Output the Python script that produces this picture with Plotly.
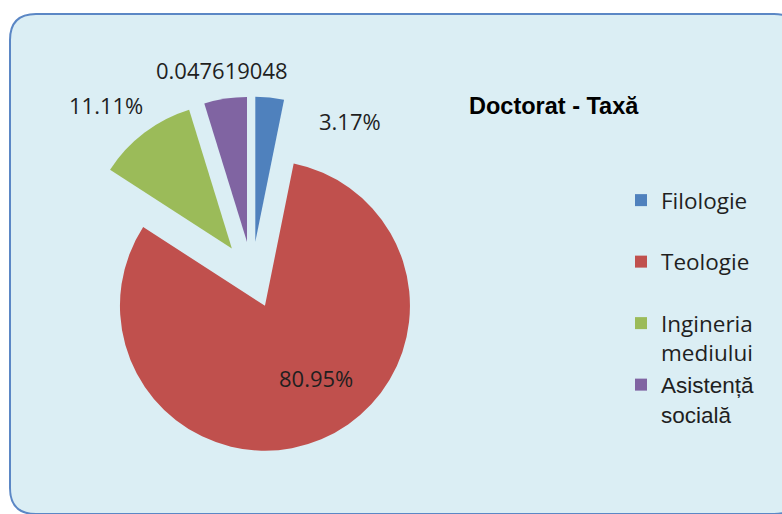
import plotly.graph_objects as go

# ---- data ----
labels = ["Filologie", "Teologie", "Ingineria mediului", "Asistență socială"]
legend_labels = ["Filologie<br> ", "Teologie<br> ", "Ingineria<br>mediului",
                 "<span style='font-family:Liberation Sans'>Asistență<br>socială</span>"]
values = [2, 51, 7, 3]
data_labels = ["3.17%", "80.95%", "11.11%", "0.047619048"]
colors = ["#4F81BD", "#C0504D", "#9BBB59", "#8064A2"]
title_text = "Doctorat - Taxă"

W, H = 782, 514

def px(x, y):
    return x / W, 1 - y / H

# rounded chart-area background (decoration)
L, T, R, B, rad = 10, 14, 800, 514, 26
def P(x, y):
    a, b = px(x, y)
    return f"{a:.5f},{b:.5f}"
path = (f"M{P(L+rad, T)} L{P(R-rad, T)} Q{P(R, T)} {P(R, T+rad)} "
        f"L{P(R, B-rad)} Q{P(R, B)} {P(R-rad, B)} L{P(L+rad, B)} "
        f"Q{P(L, B)} {P(L, B-rad)} L{P(L, T+rad)} Q{P(L, T)} {P(L+rad, T)} Z")

cx, cy, r, pull = 252, 275, 145, 0.23
half = r * (1 + pull)
dx0, dy0 = px(cx - half, cy + half)
dx1, dy1 = px(cx + half, cy - half)

fig = go.Figure(go.Pie(
    labels=legend_labels,
    values=values,
    textinfo="none",
    marker=dict(colors=colors, line=dict(width=0)),
    sort=False,
    direction="clockwise",
    rotation=0,
    pull=[pull] * 4,
    domain=dict(x=[dx0, dx1], y=[dy0, dy1]),
    hoverinfo="label+percent",
))

annos = []
label_pos = [(350, 121), (316, 378), (106, 105), (222, 70)]
for txt, (x, y) in zip(data_labels, label_pos):
    a, b = px(x, y)
    annos.append(dict(text=txt, x=a, y=b, xref="paper", yref="paper",
                      showarrow=False, xanchor="center", yanchor="middle",
                      font=dict(family="Open Sans", size=22, color="#1F1F1F")))
# title
a, b = px(554, 106)
annos.append(dict(text=f"<b>{title_text}</b>", x=a, y=b, xref="paper", yref="paper",
                  showarrow=False, xanchor="center", yanchor="middle",
                  font=dict(family="Liberation Sans", size=23.5, color="#000000")))

lx, ly = px(621, 179)
fig.update_layout(
    width=W, height=H,
    margin=dict(l=0, r=0, t=0, b=0),
    paper_bgcolor="#FFFFFF",
    plot_bgcolor="rgba(0,0,0,0)",
    shapes=[dict(type="path", path=path, xref="paper", yref="paper",
                 fillcolor="#DBEEF4", line=dict(color="#5B87C5", width=2),
                 layer="below")],
    annotations=annos,
    showlegend=True,
    legend=dict(x=lx, y=ly, xanchor="left", yanchor="top",
                bgcolor="rgba(0,0,0,0)", valign="top",
                font=dict(family="Open Sans", size=22.5, color="#1F1F1F"),
                traceorder="normal"),
)

fig.write_html("out.html", config={"displayModeBar": False},
               post_script="document.body.style.margin='0';")
